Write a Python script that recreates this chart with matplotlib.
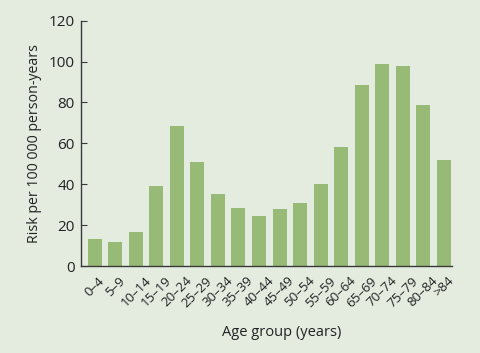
import matplotlib.pyplot as plt

grupos = ['0–4', '5–9', '10–14', '15–19', '20–24', '25–29', '30–34', '35–39',
          '40–44', '45–49', '50–54', '55–59', '60–64', '65–69', '70–74',
          '75–79', '80–84', '>84']
riesgo = [13.0, 11.6, 16.5, 39.0, 68.3, 50.9, 35.1, 28.4, 24.5, 27.7,
          31.0, 40.3, 58.4, 88.4, 99.0, 97.7, 78.9, 51.7]
yticks = [0, 20, 40, 60, 80, 100, 120]

fondo = '#e4ece0'
verde = '#97bb77'
gris = '#3a3a3a'
texto = '#222222'

plt.rcParams['font.family'] = ['Open Sans', 'DejaVu Sans']

fig = plt.figure(figsize=(4.8, 3.53), dpi=100, facecolor=fondo)
ax = fig.add_axes([81/480, 1 - 266/353, (452-81)/480, (266-20.7)/353])
ax.set_facecolor(fondo)

x = range(len(grupos))
ax.bar(x, riesgo, width=0.68, color=verde)

ax.set_xlim(-0.67, 17.4)
ax.set_ylim(0, 120)
ax.set_yticks(yticks)
ax.set_xticks(list(x))
ax.set_xticklabels(grupos, rotation=45, ha='center', va='top')

for s in ['top', 'right']:
    ax.spines[s].set_visible(False)
for s in ['left', 'bottom']:
    ax.spines[s].set_color(gris)
    ax.spines[s].set_linewidth(1.0)

# marcas del eje y hacia adentro
ax.tick_params(axis='y', direction='in', length=4.5, color=gris,
               labelsize=11, labelcolor=texto, pad=4.5)
ax.tick_params(axis='x', length=0, labelsize=9.5, labelcolor=texto, pad=6)

ax.set_ylabel('Risk per 100 000 person-years', fontsize=10.2, color=texto, labelpad=5)
ax.set_xlabel('Age group (years)', fontsize=10.5, color=texto)
ax.xaxis.set_label_coords(0.542, -0.24)

fig.savefig('out.png', dpi=100, facecolor=fondo)
